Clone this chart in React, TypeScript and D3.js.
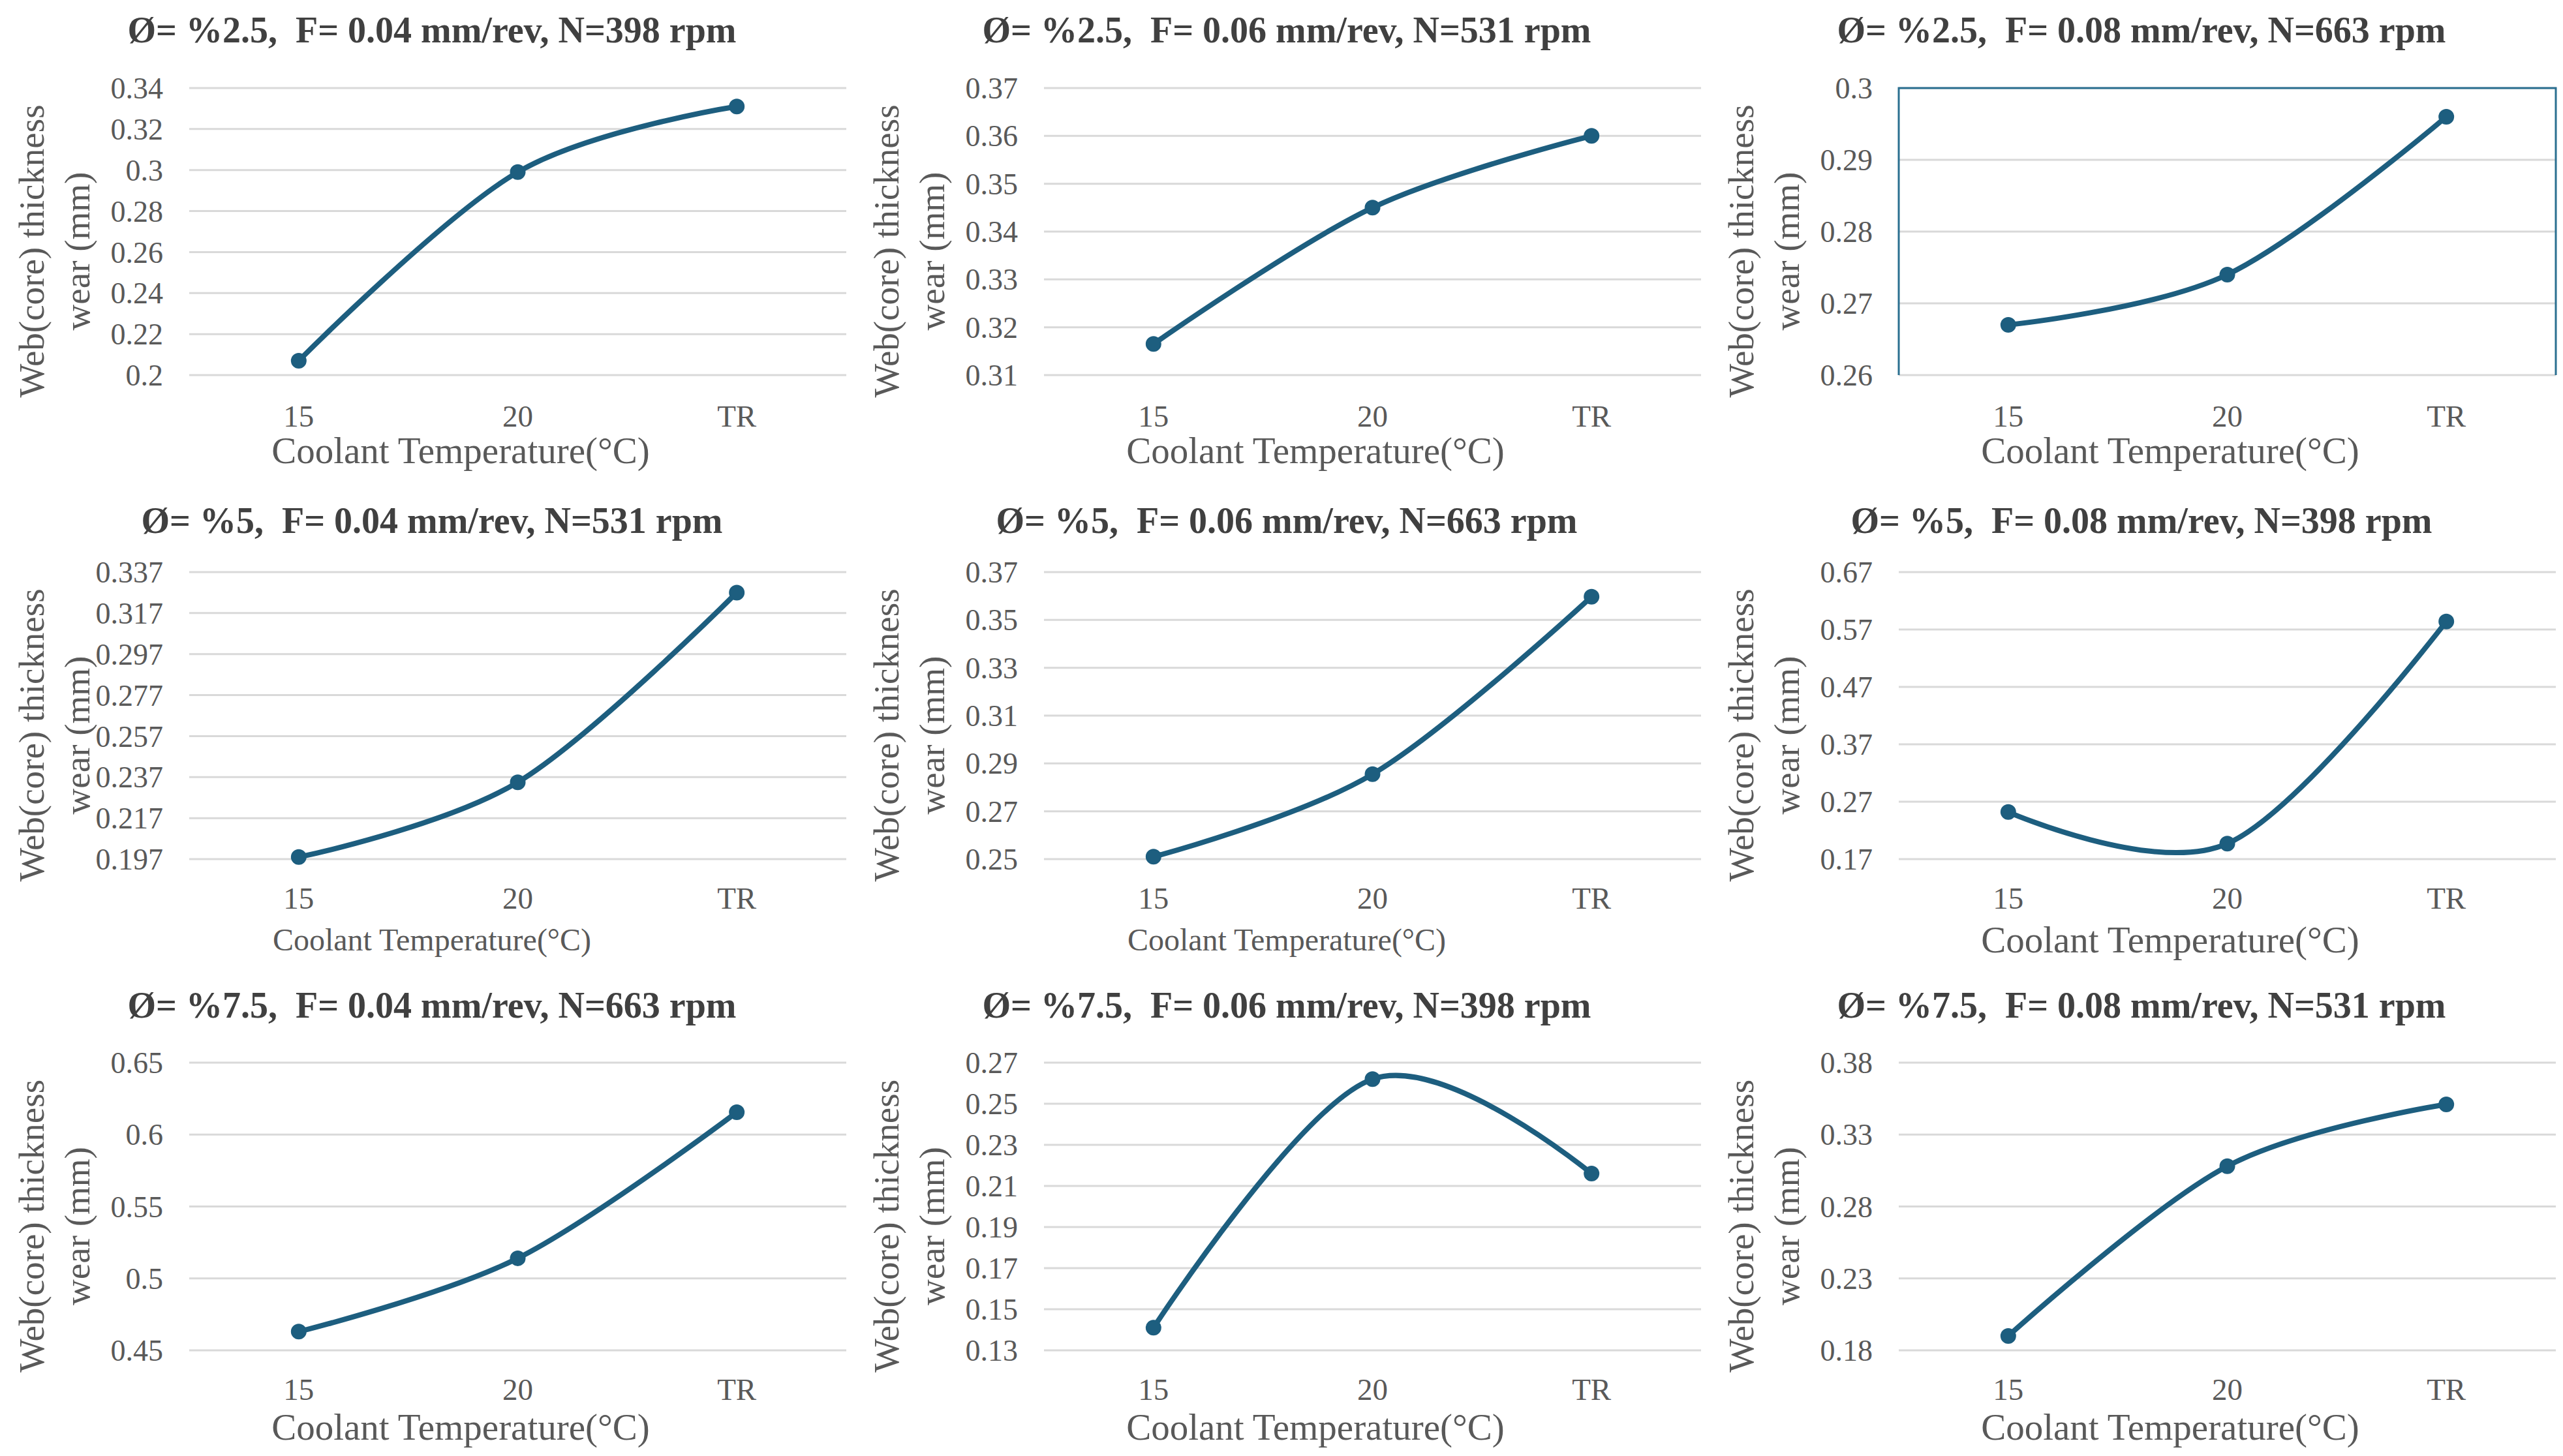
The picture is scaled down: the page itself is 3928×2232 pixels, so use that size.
import { useEffect, useRef } from 'react';
import * as d3 from 'd3';

// x categories shared by every panel
const categories = ['15', '20', 'TR'];

// panel titles, row by row
const titles = [
  'Ø= %2.5,  F= 0.04 mm/rev, N=398 rpm',
  'Ø= %2.5,  F= 0.06 mm/rev, N=531 rpm',
  'Ø= %2.5,  F= 0.08 mm/rev, N=663 rpm',
  'Ø= %5,  F= 0.04 mm/rev, N=531 rpm',
  'Ø= %5,  F= 0.06 mm/rev, N=663 rpm',
  'Ø= %5,  F= 0.08 mm/rev, N=398 rpm',
  'Ø= %7.5,  F= 0.04 mm/rev, N=663 rpm',
  'Ø= %7.5,  F= 0.06 mm/rev, N=398 rpm',
  'Ø= %7.5,  F= 0.08 mm/rev, N=531 rpm',
];

// web (core) thickness wear (mm) at 15, 20, TR
const wear25F04 = [0.207, 0.299, 0.331];
const wear25F06 = [0.3165, 0.345, 0.36];
const wear25F08 = [0.267, 0.274, 0.296];
const wear5F04 = [0.198, 0.2345, 0.327];
const wear5F06 = [0.251, 0.2855, 0.3597];
const wear5F08 = [0.252, 0.197, 0.584];
const wear75F04 = [0.463, 0.514, 0.6155];
const wear75F06 = [0.141, 0.262, 0.216];
const wear75F08 = [0.19, 0.308, 0.351];

// y tick values per panel
const ticks25F04 = [0.2, 0.22, 0.24, 0.26, 0.28, 0.3, 0.32, 0.34];
const ticks25F06 = [0.31, 0.32, 0.33, 0.34, 0.35, 0.36, 0.37];
const ticks25F08 = [0.26, 0.27, 0.28, 0.29, 0.3];
const ticks5F04 = [0.197, 0.217, 0.237, 0.257, 0.277, 0.297, 0.317, 0.337];
const ticks5F06 = [0.25, 0.27, 0.29, 0.31, 0.33, 0.35, 0.37];
const ticks5F08 = [0.17, 0.27, 0.37, 0.47, 0.57, 0.67];
const ticks75F04 = [0.45, 0.5, 0.55, 0.6, 0.65];
const ticks75F06 = [0.13, 0.15, 0.17, 0.19, 0.21, 0.23, 0.25, 0.27];
const ticks75F08 = [0.18, 0.23, 0.28, 0.33, 0.38];

const panels = [
  { values: wear25F04, ticks: ticks25F04 },
  { values: wear25F06, ticks: ticks25F06 },
  { values: wear25F08, ticks: ticks25F08, boxed: true },
  { values: wear5F04, ticks: ticks5F04, smallXTitle: true },
  { values: wear5F06, ticks: ticks5F06, smallXTitle: true },
  { values: wear5F08, ticks: ticks5F08 },
  { values: wear75F04, ticks: ticks75F04 },
  { values: wear75F06, ticks: ticks75F06 },
  { values: wear75F08, ticks: ticks75F08 },
];

const W = 3928;
const H = 2232;
const FONT = "'Liberation Serif', serif";
const LINE = '#1d5e7f';

export default function App() {
  const svgRef = useRef<SVGSVGElement | null>(null);

  useEffect(() => {
    if (!svgRef.current) return;
    const svg = d3.select(svgRef.current);
    svg.selectAll('*').remove();

    svg.append('rect').attr('width', W).attr('height', H).attr('fill', 'white');

    const colStep = 1310;
    const rowTop = [135, 877, 1629];
    const rowBottom = [575, 1317, 2070];
    const titleY = [45, 797, 1540];
    const xTickY = [638, 1377, 2130];
    const xTitleY = [690, 1440, 2187];

    panels.forEach((p, i) => {
      const col = i % 3;
      const row = Math.floor(i / 3);
      const off = col * colStep;
      const left = off + 290;
      const right = off + 1297;
      const top = rowTop[row];
      const bottom = rowBottom[row];
      const g = svg.append('g');

      const x = d3.scalePoint<string>().domain(categories).range([left, right]).padding(0.5);
      const y = d3
        .scaleLinear()
        .domain([p.ticks[0], p.ticks[p.ticks.length - 1]])
        .range([bottom, top]);

      // gridlines
      g.selectAll('line.grid')
        .data(p.ticks)
        .join('line')
        .attr('class', 'grid')
        .attr('x1', left)
        .attr('x2', right)
        .attr('y1', d => y(d))
        .attr('y2', d => y(d))
        .attr('stroke', '#d9d9d9')
        .attr('stroke-width', 3);

      // selected plot area outline (left, top, right only)
      if (p.boxed) {
        g.append('path')
          .attr('d', `M${left},${bottom}V${top}H${right}V${bottom}`)
          .attr('fill', 'none')
          .attr('stroke', '#2a6f90')
          .attr('stroke-width', 3);
      }

      // y tick labels
      g.selectAll('text.ytick')
        .data(p.ticks)
        .join('text')
        .attr('class', 'ytick')
        .attr('x', off + 250)
        .attr('y', d => y(d))
        .attr('dy', '0.35em')
        .attr('text-anchor', 'end')
        .style('font-family', FONT)
        .style('font-size', '46px')
        .attr('fill', '#595959')
        .text(d => String(+d.toFixed(3)));

      // x tick labels
      g.selectAll('text.xtick')
        .data(categories)
        .join('text')
        .attr('class', 'xtick')
        .attr('x', d => x(d) as number)
        .attr('y', xTickY[row])
        .attr('dy', '0.35em')
        .attr('text-anchor', 'middle')
        .style('font-family', FONT)
        .style('font-size', '47px')
        .attr('fill', '#595959')
        .text(d => d);

      // series (Excel-style smoothed line)
      const line = d3
        .line<number>()
        .x((d, k) => x(categories[k]) as number)
        .y(d => y(d))
        .curve(d3.curveCardinal.tension(0));

      g.append('path')
        .attr('d', line(p.values) || '')
        .attr('fill', 'none')
        .attr('stroke', LINE)
        .attr('stroke-width', 8)
        .attr('stroke-linecap', 'round');

      g.selectAll('circle')
        .data(p.values)
        .join('circle')
        .attr('cx', (d, k) => x(categories[k]) as number)
        .attr('cy', d => y(d))
        .attr('r', 11)
        .attr('fill', LINE)
        .attr('stroke', LINE)
        .attr('stroke-width', 2);

      // title
      g.append('text')
        .attr('x', off + 662)
        .attr('y', titleY[row])
        .attr('dy', '0.35em')
        .attr('text-anchor', 'middle')
        .style('font-family', FONT)
        .style('font-weight', 'bold')
        .style('font-size', '56px')
        .style('white-space', 'pre')
        .attr('fill', '#404040')
        .text(titles[i]);

      // x axis title
      g.append('text')
        .attr('x', off + (p.smallXTitle ? 662 : 706))
        .attr('y', xTitleY[row])
        .attr('dy', '0.35em')
        .attr('text-anchor', 'middle')
        .style('font-family', FONT)
        .style('font-size', p.smallXTitle ? '48px' : '57px')
        .attr('fill', '#595959')
        .text('Coolant Temperature(°C)');

      // y axis title (two lines)
      const cy = (top + bottom) / 2 + 30;
      [
        { text: 'Web(core) thickness', dx: 48 },
        { text: 'wear (mm)', dx: 118 },
      ].forEach(t => {
        g.append('text')
          .attr('transform', `translate(${off + t.dx},${cy}) rotate(-90)`)
          .attr('dy', '0.35em')
          .attr('text-anchor', 'middle')
          .style('font-family', FONT)
          .style('font-size', '55px')
          .attr('fill', '#595959')
          .text(t.text);
      });
    });
  }, []);

  return (
    <div style={{ position: 'absolute', left: 0, top: 0 }}>
      <svg ref={svgRef} width={W} height={H} style={{ display: 'block' }} />
    </div>
  );
}
